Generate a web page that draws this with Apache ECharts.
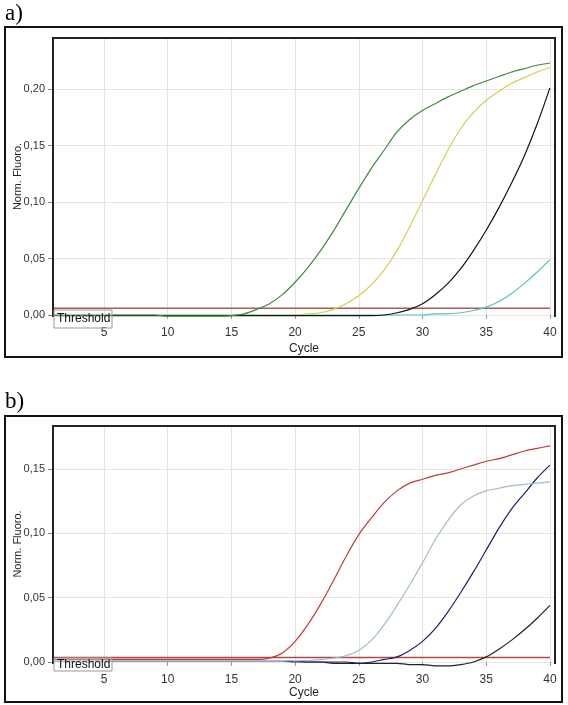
<!DOCTYPE html>
<html>
<head>
<meta charset="utf-8">
<script src="https://cdn.jsdelivr.net/npm/echarts@6/dist/echarts.min.js"></script>
<style>html,body{margin:0;padding:0;background:#fff;}#c{width:568px;height:705px;}</style>
</head>
<body>
<div id="c"></div>
<script>
const cycles = [1,2,3,4,5,6,7,8,9,10,11,12,13,14,15,16,17,18,19,20,21,22,23,24,25,26,27,28,29,30,31,32,33,34,35,36,37,38,39,40];
const xTicks = [5,10,15,20,25,30,35,40];
const yTicksA = [0,0.05,0.10,0.15,0.20];
const yTicksB = [0,0.05,0.10,0.15];

// Panel a
const aGreen = [0,0,0,0,0,0,0,0,0,-0.001,-0.001,-0.001,-0.001,-0.001,-0.0005,0.001,0.005,0.010,0.018,0.029,0.042,0.057,0.074,0.093,0.112,0.130,0.146,0.162,0.173,0.181,0.187,0.193,0.198,0.203,0.207,0.211,0.215,0.218,0.221,0.223];
const aYellow = [0,0,0,0,0,0,0,0,0,0,0,0,0,0,0,0,0,0,0,0,0.001,0.002,0.005,0.010,0.017,0.027,0.040,0.057,0.078,0.101,0.124,0.146,0.165,0.179,0.190,0.198,0.205,0.210,0.215,0.219];
const aBlack = [-0.0005,-0.0005,-0.0005,-0.0005,-0.0005,-0.0005,-0.0005,-0.0005,-0.0005,-0.0005,-0.0005,-0.0005,-0.0005,-0.0005,-0.0005,-0.0005,-0.0005,-0.0005,-0.0005,-0.0005,-0.0005,-0.0005,-0.0005,-0.0005,-0.0005,-0.0005,0.000,0.002,0.005,0.010,0.018,0.028,0.041,0.057,0.075,0.095,0.117,0.141,0.169,0.201];
const aCyan = [0,0,0,0,0,0,0,0,0,0,0,0,0,0,0,0,0,0,0,0,0,0,0,0,0,0,0,0,0,0,0.001,0.001,0.002,0.004,0.007,0.012,0.019,0.028,0.038,0.049];
const aThreshold = 0.006;

// Panel b
const bRed = [0.002,0.002,0.002,0.002,0.002,0.002,0.002,0.002,0.002,0.002,0.002,0.002,0.002,0.002,0.002,0.002,0.002,0.003,0.007,0.016,0.029,0.045,0.063,0.082,0.099,0.112,0.124,0.133,0.139,0.142,0.145,0.147,0.150,0.153,0.156,0.158,0.161,0.164,0.166,0.168];
const bLightBlue = [0.001,0.001,0.001,0.001,0.001,0.001,0.001,0.001,0.001,0.001,0.001,0.001,0.001,0.001,0.001,0.001,0.001,0.001,0.001,0.001,0.001,0.002,0.003,0.005,0.009,0.017,0.029,0.044,0.060,0.077,0.095,0.110,0.122,0.129,0.133,0.135,0.137,0.138,0.139,0.140];
const bNavy = [0.001,0.001,0.001,0.001,0.001,0.001,0.001,0.001,0.001,0.001,0.001,0.001,0.001,0.001,0.001,0.001,0.001,0.001,0.001,0.000,0.000,0.000,0.000,0.000,-0.001,0.000,0.002,0.004,0.009,0.016,0.026,0.039,0.054,0.070,0.087,0.104,0.119,0.131,0.143,0.153];
const bBlack = [0.001,0.001,0.001,0.001,0.001,0.001,0.001,0.001,0.001,0.001,0.001,0.001,0.001,0.001,0.001,0.001,0.001,0.001,0.001,0.001,0.000,0.000,-0.001,-0.001,-0.001,-0.001,-0.001,-0.001,-0.002,-0.002,-0.003,-0.003,-0.002,0.000,0.004,0.010,0.017,0.025,0.034,0.044];
const bThreshold = 0.0035;

const pairs = arr => arr.map((v, i) => [cycles[i], v]);
const thr = (t) => [[cycles[0], t], [cycles[cycles.length - 1], t]];
const fmt = v => v.toFixed(2).replace('.', ',');
const FONT = 'Liberation Sans';

function xAx(gi, gap) {
  return {
    type: 'value', gridIndex: gi, min: 1, max: 40.4,
    axisLine: { show: false },
    axisTick: { show: true, customValues: xTicks, length: 4, lineStyle: { color: '#999' } },
    axisLabel: { customValues: xTicks, margin: 12, fontFamily: FONT, fontSize: 12, color: '#333' },
    splitLine: { show: true, lineStyle: { color: '#e4e4e4', width: 1 } },
    name: 'Cycle', nameLocation: 'middle', nameGap: gap, nameMoveOverlap: false,
    nameTextStyle: { fontFamily: FONT, fontSize: 12, color: '#222' }
  };
}
function yAx(gi, max, ticks) {
  return {
    type: 'value', gridIndex: gi, min: 0, max: max,
    axisLine: { show: false },
    axisTick: { show: true, customValues: ticks, length: 5, lineStyle: { color: '#888' } },
    axisLabel: { customValues: ticks, margin: 8, formatter: fmt, fontFamily: FONT, fontSize: 11, color: '#333' },
    splitLine: { show: true, lineStyle: { color: '#e4e4e4', width: 1 } },
    name: 'Norm. Fluoro.', nameLocation: 'middle', nameGap: 30, nameRotate: 90, nameMoveOverlap: false,
    nameTextStyle: { fontFamily: FONT, fontSize: 11, color: '#222' }
  };
}
function ser(gi, data, color, w) {
  return {
    type: 'line', xAxisIndex: gi, yAxisIndex: gi, data: data,
    showSymbol: false, symbol: 'none', clip: false,
    smooth: 0.3,
    lineStyle: { color: color, width: w || 1.2 }, z: 3
  };
}

const chart = echarts.init(document.getElementById('c'), null, { renderer: 'canvas' });
chart.setOption({
  animation: false,
  backgroundColor: '#fff',
  grid: [
    { left: 53, top: 38, width: 502, height: 277, show: false, containLabel: false, outerBoundsMode: 'none' },
    { left: 53, top: 426, width: 502, height: 236, show: false, containLabel: false, outerBoundsMode: 'none' }
  ],
  xAxis: [xAx(0, 28), xAx(1, 25)],
  yAxis: [yAx(0, 0.2451, yTicksA), yAx(1, 0.1834, yTicksB)],
  series: [
    ser(0, thr(aThreshold), '#a85c5c', 1.5),
    ser(0, pairs(aCyan), '#4cc6c6'),
    ser(0, pairs(aYellow), '#d6cf4e'),
    ser(0, pairs(aBlack), '#151515'),
    ser(0, pairs(aGreen), '#3f8a45'),
    ser(1, thr(bThreshold), '#b04848', 1.3),
    ser(1, pairs(bBlack), '#222222'),
    ser(1, pairs(bNavy), '#1e1e6e'),
    ser(1, pairs(bLightBlue), '#a3bccb'),
    ser(1, pairs(bRed), '#c03a3a')
  ],
  graphic: [
    { type: 'text', left: 5, top: 2, style: { text: 'a)', font: '23px "Liberation Serif"', fill: '#000' } },
    { type: 'text', left: 5, top: 390, style: { text: 'b)', font: '23px "Liberation Serif"', fill: '#000' } },
    { type: 'rect', shape: { x: 5, y: 27, width: 557, height: 330 }, style: { fill: 'none', stroke: '#111', lineWidth: 2 }, z: 10 },
    { type: 'rect', shape: { x: 5, y: 416, width: 557, height: 286 }, style: { fill: 'none', stroke: '#111', lineWidth: 2 }, z: 10 },
    { type: 'polyline', shape: { points: [[53, 317], [53, 38], [555, 38], [555, 317]] }, style: { fill: 'none', stroke: '#222', lineWidth: 2 }, z: 10 },
    { type: 'polyline', shape: { points: [[53, 664], [53, 426], [555, 426], [555, 664]] }, style: { fill: 'none', stroke: '#222', lineWidth: 2 }, z: 10 },
    { type: 'rect', shape: { x: 54, y: 310, width: 58, height: 18 }, style: { fill: 'rgba(255,255,255,0.3)', stroke: '#999', lineWidth: 1 }, z: 11 },
    { type: 'text', x: 57, y: 319, style: { text: 'Threshold', font: '12px "Liberation Sans"', fill: '#111', textVerticalAlign: 'middle' }, z: 12 },
    { type: 'rect', shape: { x: 54, y: 658, width: 58, height: 13 }, style: { fill: 'rgba(255,255,255,0.3)', stroke: '#999', lineWidth: 1 }, z: 11 },
    { type: 'text', x: 57, y: 665, style: { text: 'Threshold', font: '12px "Liberation Sans"', fill: '#111', textVerticalAlign: 'middle' }, z: 12 }
  ]
});
</script>
</body>
</html>
